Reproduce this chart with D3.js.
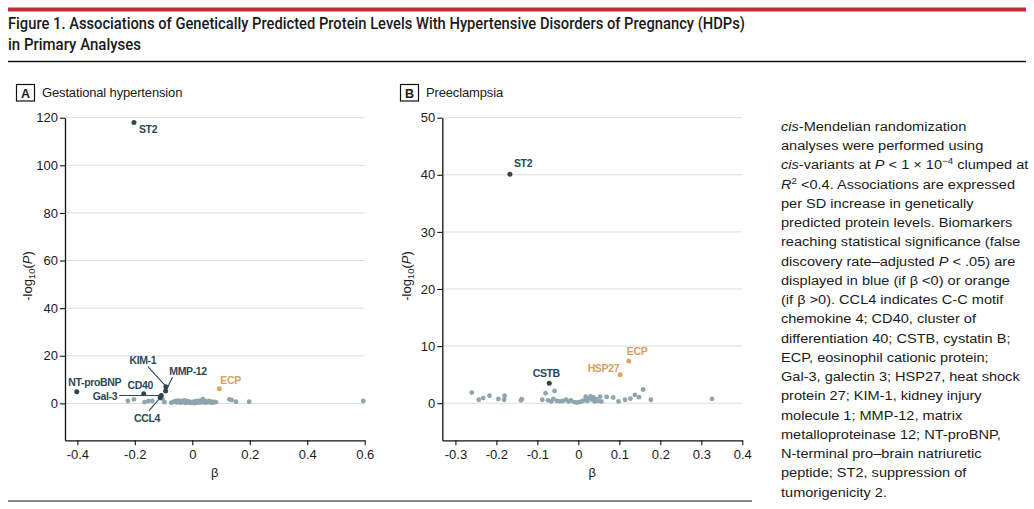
<!DOCTYPE html>
<html><head><meta charset="utf-8">
<script src="https://cdn.jsdelivr.net/npm/d3@7/dist/d3.min.js"></script>
<style>
body{margin:0;background:#fff;}
svg{display:block;font-family:"Liberation Sans",Arial,sans-serif;}
</style></head><body>
<svg id="chart" width="1034" height="509"></svg>
<script>
// ---------- DATA ----------
// Panel A: Gestational hypertension
const gestSigNames = ["ST2","NT-proBNP","CD40","Gal-3","CCL4","KIM-1","MMP-12","ECP"];
const gestSigBeta  = [-0.203,-0.402,-0.169,-0.108,-0.112,-0.092,-0.093,0.094];
const gestSigLogP  = [118,4.9,4.0,3.3,2.4,7.0,5.2,6.1];
const gestOtherBeta = [-0.224,-0.203,-0.166,-0.152,-0.139,-0.104,-0.097,-0.073,
  -0.066,-0.060,-0.055,-0.050,-0.046,-0.042,-0.038,-0.034,-0.030,-0.027,-0.024,-0.020,-0.017,-0.013,-0.010,-0.006,-0.003,0.000,
  0.004,0.007,0.010,0.013,0.016,0.019,0.022,0.025,0.028,0.031,0.034,0.037,0.040,0.043,0.046,0.050,0.054,0.058,0.062,0.066,0.071,0.076,0.082,
  0.129,0.137,0.152,0.198,0.595];
const gestOtherLogP = [1.1,1.7,0.5,1.0,1.1,2.0,0.5,0.3,
  0.6,0.9,0.4,1.2,0.7,0.3,1.0,0.5,0.8,1.3,0.2,0.6,0.9,0.4,0.7,0.2,0.5,0.3,
  0.6,0.1,0.8,0.4,1.0,0.3,0.7,0.5,1.2,0.4,0.9,1.8,0.6,1.1,0.3,0.8,0.5,1.0,0.4,0.7,0.3,0.6,0.5,
  1.7,1.4,0.7,0.7,1.0];

// Panel B: Preeclampsia
const preSigNames = ["ST2","CSTB","HSP27","ECP"];
const preSigBeta  = [-0.167,-0.071,0.102,0.123];
const preSigLogP  = [40.1,3.5,5.0,7.4];
const preOtherBeta = [-0.260,-0.243,-0.232,-0.217,-0.195,-0.180,-0.181,-0.140,-0.138,-0.088,-0.080,-0.074,-0.066,-0.061,-0.058,
  -0.052,-0.045,-0.038,-0.030,-0.024,-0.018,-0.010,-0.004,0.002,0.008,0.014,0.018,0.022,0.026,0.030,0.034,0.037,0.040,0.044,0.048,
  0.053,0.056,0.069,0.085,0.098,0.114,0.127,0.138,0.148,0.158,0.177,0.326];
const preOtherLogP = [1.85,0.6,0.9,1.3,0.75,1.3,0.6,0.5,0.7,0.6,1.75,0.5,0.3,0.75,2.15,
  0.4,0.3,0.4,0.6,0.3,0.5,0.2,0.1,0.2,0.3,0.5,1.15,0.4,0.8,1.2,0.6,1.0,0.3,0.7,0.4,
  1.15,0.3,1.1,1.0,0.3,0.6,0.8,1.45,1.05,2.4,0.6,0.75];

// Tick labels
const gestXTicks = [-0.4,-0.2,0,0.2,0.4,0.6];
const gestYTicks = [0,20,40,60,80,100,120];
const preXTicks = [-0.3,-0.2,-0.1,0,0.1,0.2,0.3,0.4];
const preYTicks = [0,10,20,30,40,50];

// ---------- STYLE / LAYOUT ----------
const C = {
  dark:"#2e4450", darkLabel:"#2b4756", gray:"#8ea5ad", orange:"#e0a266", orangeLabel:"#d99e62",
  grid:"#dcdcdc", text:"#1a1a1a", red:"#c52b3d"
};
const svg = d3.select("#chart");
svg.append("rect").attr("width",1034).attr("height",509).attr("fill","#fff");

// Header
svg.append("rect").attr("x",8).attr("y",7.5).attr("width",1018).attr("height",4).attr("fill",C.red);
svg.append("text").attr("x",8).attr("y",29).attr("font-family","Roboto, 'Liberation Sans', sans-serif")
  .attr("font-weight",500).attr("font-size",17).attr("fill",C.text)
  .attr("textLength",737).attr("lengthAdjust","spacingAndGlyphs")
  .text("Figure 1. Associations of Genetically Predicted Protein Levels With Hypertensive Disorders of Pregnancy (HDPs)");
svg.append("text").attr("x",8).attr("y",49.5).attr("font-family","Roboto, 'Liberation Sans', sans-serif")
  .attr("font-weight",500).attr("font-size",17).attr("fill",C.text)
  .attr("textLength",133).attr("lengthAdjust","spacingAndGlyphs")
  .text("in Primary Analyses");
svg.append("line").attr("x1",8).attr("x2",1026).attr("y1",61.5).attr("y2",61.5).attr("stroke","#111").attr("stroke-width",1.5);
svg.append("line").attr("x1",8).attr("x2",752).attr("y1",501).attr("y2",501).attr("stroke","#111").attr("stroke-width",1.2);

const fmtX = d => d === 0 ? "0" : (d < 0 ? "-" : "") + Math.abs(d).toFixed(1);

function panel(cfg) {
  const g = svg.append("g");
  const x = d3.scaleLinear().domain(cfg.xDomain).range(cfg.xRange);
  const y = d3.scaleLinear().domain(cfg.yDomain).range(cfg.yRange);

  // panel title
  g.append("rect").attr("x",cfg.boxX).attr("y",84.5).attr("width",18).attr("height",16.5)
    .attr("fill","none").attr("stroke","#111").attr("stroke-width",1.2);
  g.append("text").attr("x",cfg.boxX+9).attr("y",97.5).attr("text-anchor","middle")
    .attr("font-weight","bold").attr("font-size",12.5).attr("fill",C.text).text(cfg.letter);
  g.append("text").attr("x",cfg.boxX+25.5).attr("y",96.5).attr("font-size",13).attr("letter-spacing",-0.15)
    .attr("fill",C.text).text(cfg.title);

  // grid
  g.append("g").selectAll("line").data(cfg.yTicks).join("line")
    .attr("x1",cfg.xRange[0]).attr("x2",cfg.xRange[1])
    .attr("y1",d=>y(d)).attr("y2",d=>y(d)).attr("stroke",C.grid).attr("stroke-width",1);

  // axes
  const ya = g.append("g").attr("transform",`translate(${cfg.xRange[0]},0)`)
    .call(d3.axisLeft(y).tickValues(cfg.yTicks).tickSize(5).tickSizeOuter(0).tickPadding(2));
  const xa = g.append("g").attr("transform",`translate(0,${cfg.yRange[0]})`)
    .call(d3.axisBottom(x).tickValues(cfg.xTicks).tickFormat(fmtX).tickSize(5).tickSizeOuter(0).tickPadding(4));
  [ya,xa].forEach(a=>{
    a.selectAll("path").attr("stroke","#111").attr("stroke-width",1.3);
    a.selectAll("line").attr("stroke","#111").attr("stroke-width",1.1);
    a.selectAll("text").attr("font-size",13).attr("fill",C.text).attr("font-family","'Liberation Sans',Arial,sans-serif");
  });

  // axis titles
  const yt = g.append("text").attr("transform",`translate(${cfg.yTitleX},${cfg.yTitleY}) rotate(-90)`)
    .attr("text-anchor","middle").attr("font-size",13).attr("fill",C.text);
  yt.append("tspan").text("-log");
  yt.append("tspan").attr("font-size",9.5).attr("dy",3).text("10");
  yt.append("tspan").attr("dy",-3).text("(");
  yt.append("tspan").attr("font-style","italic").text("P");
  yt.append("tspan").text(")");
  g.append("text").attr("x",x(cfg.betaLabelAt)).attr("y",477).attr("text-anchor","middle")
    .attr("font-size",13).attr("fill",C.text).text("β");

  // non-significant points
  const others = cfg.otherBeta.map((b,i)=>({b, p:cfg.otherLogP[i]}));
  g.append("g").selectAll("circle").data(others).join("circle")
    .attr("cx",d=>x(d.b)).attr("cy",d=>y(d.p)).attr("r",2.4).attr("fill",C.gray);

  // significant points
  const sig = cfg.sigNames.map((n,i)=>({n, b:cfg.sigBeta[i], p:cfg.sigLogP[i]}));
  const col = d => d.b < 0 ? C.dark : C.orange;
  const lcol = d => d.b < 0 ? C.darkLabel : C.orangeLabel;
  // leaders
  sig.forEach(d=>{
    const L = cfg.labels[d.n];
    if (L.leader) {
      const px = x(d.b), py = y(d.p);
      g.append("line").attr("x1",px+L.leader[0]).attr("y1",py+L.leader[1])
        .attr("x2",px+L.leader[2]).attr("y2",py+L.leader[3])
        .attr("stroke",C.darkLabel).attr("stroke-width",1.1);
    }
  });
  g.append("g").selectAll("circle").data(sig).join("circle")
    .attr("cx",d=>x(d.b)).attr("cy",d=>y(d.p)).attr("r",2.5).attr("fill",col);
  g.append("g").selectAll("text").data(sig).join("text")
    .attr("x",d=>x(d.b)+cfg.labels[d.n].dx).attr("y",d=>y(d.p)+cfg.labels[d.n].dy)
    .attr("text-anchor",d=>cfg.labels[d.n].anchor)
    .attr("font-size",10.5).attr("font-weight","bold").attr("letter-spacing",-0.35)
    .attr("fill",lcol).text(d=>d.n);
}

panel({
  letter:"A", title:"Gestational hypertension", boxX:16.5,
  xDomain:[-0.443,0.6], xRange:[65,364.7], yDomain:[-15.5,120], yRange:[440.3,117.7],
  xTicks:gestXTicks, yTicks:gestYTicks, yTitleX:32, yTitleY:276, betaLabelAt:0.078,
  sigNames:gestSigNames, sigBeta:gestSigBeta, sigLogP:gestSigLogP,
  otherBeta:gestOtherBeta, otherLogP:gestOtherLogP,
  labels:{
    "ST2":{dx:5,dy:11,anchor:"start"},
    "NT-proBNP":{dx:18,dy:-6,anchor:"middle"},
    "CD40":{dx:-3.5,dy:-5,anchor:"middle"},
    "Gal-3":{dx:-44,dy:4,anchor:"end",leader:[-42,0,-2,0]},
    "CCL4":{dx:-13,dy:24,anchor:"middle",leader:[-11,13,-1.5,2]},
    "KIM-1":{dx:-23,dy:-22.5,anchor:"middle",leader:[-18,-20,-1,-1.5]},
    "MMP-12":{dx:22.5,dy:-16,anchor:"middle",leader:[7,-14,1.5,-2.5]},
    "ECP":{dx:1,dy:-5,anchor:"start"}
  }
});

panel({
  letter:"B", title:"Preeclampsia", boxX:400.5,
  xDomain:[-0.332,0.4], xRange:[442.3,742.3], yDomain:[-6.5,50], yRange:[440.3,117.7],
  xTicks:preXTicks, yTicks:preYTicks, yTitleX:411, yTitleY:276, betaLabelAt:0.034,
  sigNames:preSigNames, sigBeta:preSigBeta, sigLogP:preSigLogP,
  otherBeta:preOtherBeta, otherLogP:preOtherLogP,
  labels:{
    "ST2":{dx:4,dy:-7,anchor:"start"},
    "CSTB":{dx:-3,dy:-6,anchor:"middle"},
    "HSP27":{dx:-1,dy:-3,anchor:"end"},
    "ECP":{dx:-2,dy:-6,anchor:"start"}
  }
});

// ---------- Caption text ----------
const capLines = [
  [["cis","i"],["-Mendelian randomization"]],
  [["analyses were performed using"]],
  [["cis","i"],["-variants at "],["P","i"],[" < 1 × 10"],["−4","sup"],[" clumped at"]],
  [["R","i"],["2","sup"],[" <0.4. Associations are expressed"]],
  [["per SD increase in genetically"]],
  [["predicted protein levels. Biomarkers"]],
  [["reaching statistical significance (false"]],
  [["discovery rate–adjusted "],["P","i"],[" < .05) are"]],
  [["displayed in blue (if β <0) or orange"]],
  [["(if β >0). CCL4 indicates C-C motif"]],
  [["chemokine 4; CD40, cluster of"]],
  [["differentiation 40; CSTB, cystatin B;"]],
  [["ECP, eosinophil cationic protein;"]],
  [["Gal-3, galectin 3; HSP27, heat shock"]],
  [["protein 27; KIM-1, kidney injury"]],
  [["molecule 1; MMP-12, matrix"]],
  [["metalloproteinase 12; NT-proBNP,"]],
  [["N-terminal pro–brain natriuretic"]],
  [["peptide; ST2, suppression of"]],
  [["tumorigenicity 2."]]
];
const cap = svg.append("g");
const capTexts = [];
capLines.forEach((segs,i)=>{
  const t = cap.append("text").attr("x",0).attr("y",131 + i*19.25)
    .attr("font-size",13.5).attr("fill",C.text);
  segs.forEach(([s,st],j)=>{
    const ts = t.append("tspan").text(s);
    if (st==="i") ts.attr("font-style","italic");
    if (st==="sup") { ts.attr("font-size",9).attr("dy",-5); }
    if (j>0 && segs[j-1][1]==="sup") ts.attr("dy",5);
  });
  capTexts.push(t);
});
const refW = capTexts[11].node().getComputedTextLength();
const sx = 229.7 / refW;
cap.attr("transform",`translate(781,0) scale(${sx},1)`);
</script></body></html>
